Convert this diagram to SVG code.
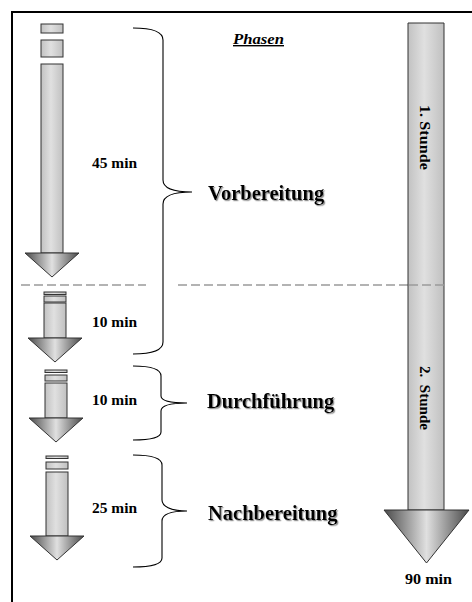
<svg xmlns="http://www.w3.org/2000/svg" width="472" height="602" viewBox="0 0 472 602">
<defs>
<linearGradient id="shaft" x1="0" y1="0" x2="1" y2="0">
<stop offset="0" stop-color="#c2c2c2"/>
<stop offset="0.45" stop-color="#e0e0e0"/>
<stop offset="1" stop-color="#c0c0c0"/>
</linearGradient>
<linearGradient id="head" x1="0" y1="0" x2="1" y2="0">
<stop offset="0" stop-color="#4a4a4a"/>
<stop offset="0.5" stop-color="#e0e0e0"/>
<stop offset="1" stop-color="#4a4a4a"/>
</linearGradient>
<filter id="sh" x="-10%" y="-30%" width="120%" height="160%">
<feDropShadow dx="1.2" dy="1.2" stdDeviation="0.7" flood-color="#777" flood-opacity="0.8"/>
</filter>
</defs>
<style>
.sh{fill:url(#shaft);stroke:#333;stroke-width:1}
.hd{fill:url(#head);stroke:#333;stroke-width:1}
.br{fill:none;stroke:#000;stroke-width:1.1}
.dash{stroke:#9a9a9a;stroke-width:1.5;stroke-dasharray:9 4;fill:none}
.t{font-family:"Liberation Serif","Times New Roman",serif;font-weight:bold;fill:#000}
.big{font-size:20.5px;filter:url(#sh)}
.sm{font-size:14px}
</style>
<rect x="0" y="0" width="472" height="602" fill="#fff"/>
<path d="M12,602 L12,12 L472,12" fill="none" stroke="#000" stroke-width="2"/>

<g id="title"><text class="t" x="233" y="44" font-size="14" font-style="italic" text-decoration="underline" textLength="51" lengthAdjust="spacingAndGlyphs">Phasen</text></g>

<g id="separator">
<line class="dash" x1="21" y1="285" x2="146" y2="285"/>
<line class="dash" x1="178" y1="285" x2="444" y2="285"/>
</g>

<g id="arrow-45">
<rect class="sh" x="41" y="24" width="22" height="9"/>
<rect class="sh" x="41" y="40" width="22" height="17"/>
<rect class="sh" x="41" y="64" width="22" height="189"/>
<polygon class="hd" points="25,253 79,253 52,277"/>
<text class="t sm" x="92" y="168" textLength="45" lengthAdjust="spacingAndGlyphs">45 min</text>
</g>

<g id="arrow-10a">
<rect class="sh" x="44" y="292" width="22" height="2.5"/>
<rect class="sh" x="44" y="296" width="22" height="6"/>
<rect class="sh" x="44" y="303" width="22" height="35"/>
<polygon class="hd" points="28,338 82,338 55,362"/>
<text class="t sm" x="92" y="327" textLength="45" lengthAdjust="spacingAndGlyphs">10 min</text>
</g>

<g id="arrow-10b">
<rect class="sh" x="45" y="370" width="22" height="2.5"/>
<rect class="sh" x="45" y="375" width="22" height="6"/>
<rect class="sh" x="45" y="383" width="22" height="35"/>
<polygon class="hd" points="29,418 83,418 56,442"/>
<text class="t sm" x="92" y="405" textLength="45" lengthAdjust="spacingAndGlyphs">10 min</text>
</g>

<g id="arrow-25">
<rect class="sh" x="46" y="456" width="22" height="2.5"/>
<rect class="sh" x="46" y="462" width="22" height="7"/>
<rect class="sh" x="46" y="472" width="22" height="64"/>
<polygon class="hd" points="30,536 84,536 57,560"/>
<text class="t sm" x="92" y="513" textLength="45" lengthAdjust="spacingAndGlyphs">25 min</text>
</g>

<g id="connectors">
<path class="br" d="M133,28 C152,28 163,32 163,40 L163,180 C163,188 172,192 192,192 C172,192 163,196 163,204 L163,342 C163,350 152,354 133,354"/>
<path class="br" d="M133,366 C152,366 161,369 161,376 L161,396 C161,400 168,403 187,403 C168,403 161,406 161,411 L161,432 C161,437 152,440 133,440"/>
<path class="br" d="M133,455 C152,455 162,458 162,465 L162,500 C162,506 170,511 187,511 C170,511 162,515 162,521 L162,558 C162,564 152,567 133,567"/>
</g>

<g id="phase-vorbereitung"><text class="t big" x="208" y="200">Vorbereitung</text></g>
<g id="phase-durchfuehrung"><text class="t big" x="207" y="408">Durchführung</text></g>
<g id="phase-nachbereitung"><text class="t big" x="208" y="520">Nachbereitung</text></g>

<g id="arrow-90">
<path class="sh" d="M408,23 L444,23 L444,510 L408,510 Z"/>
<polygon class="hd" points="384,510 469,510 426.5,563"/>
<line class="dash" x1="409" y1="285" x2="444" y2="285"/>
<text class="t" font-size="15" transform="translate(420,105) rotate(90)" textLength="65" lengthAdjust="spacingAndGlyphs">1. Stunde</text>
<text class="t" font-size="15" transform="translate(420,366) rotate(90)" textLength="64" lengthAdjust="spacingAndGlyphs" xml:space="preserve">2.  Stunde</text>
<text class="t" font-size="15" x="405" y="584" textLength="47" lengthAdjust="spacingAndGlyphs">90 min</text>
</g>
</svg>
